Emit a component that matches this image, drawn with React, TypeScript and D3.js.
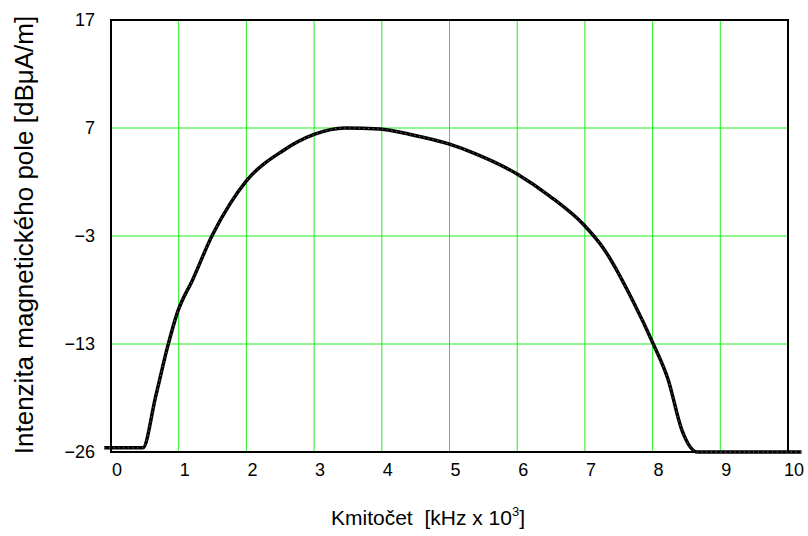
import React, { useEffect, useRef } from "react";
import * as d3 from "d3";

// values: kHz (x10^3) vs dBuA/m
const freq = [-0.1, 0.47, 0.66, 0.84, 0.98, 1.21, 1.49, 1.76, 2.0, 2.54, 3.0, 3.45, 3.97, 4.42, 5.0, 5.35, 6.01, 6.48, 6.99, 7.27, 7.7, 8.01, 8.23, 8.43, 8.66, 10.2];
const level = [-25.5, -25.5, -19.3, -13.2, -10.1, -7.0, -3.0, 0.0, 2.1, 4.9, 6.4, 7.0, 6.9, 6.4, 5.5, 4.7, 2.7, 0.7, -2.0, -4.1, -8.9, -13, -17.3, -23.3, -26, -26];

const xTicks = [0, 1, 2, 3, 4, 5, 6, 7, 8, 9, 10];
const yTicks = [-26, -13, -3, 7, 17];

const width = 808, height = 536;
const font = '"Liberation Sans", Arial, Helvetica, sans-serif';

export default function App() {
  const ref = useRef<SVGSVGElement>(null);

  useEffect(() => {
    const svg = d3.select(ref.current);
    svg.selectAll("*").remove();

    const x = d3.scaleLinear().domain([0, 10]).range([111, 788]);
    // axis labels are evenly spaced, so the scale is piecewise
    const y = d3.scaleLinear().domain(yTicks).range([452, 344, 236, 128, 20]);

    // grid
    svg.append("g")
      .selectAll("line")
      .data(xTicks.slice(1, -1))
      .enter()
      .append("line")
      .attr("x1", d => x(d)).attr("x2", d => x(d))
      .attr("y1", y(17)).attr("y2", y(-26))
      .attr("stroke", "#22ee22")
      .attr("stroke-width", 1);

    svg.append("g")
      .selectAll("line")
      .data(yTicks.slice(1, -1))
      .enter()
      .append("line")
      .attr("x1", x(0)).attr("x2", x(10))
      .attr("y1", d => y(d)).attr("y2", d => y(d))
      .attr("stroke", "#22ee22")
      .attr("stroke-width", 1);

    // frame
    svg.append("rect")
      .attr("x", x(0)).attr("y", y(17))
      .attr("width", x(10) - x(0)).attr("height", y(-26) - y(17))
      .attr("fill", "none")
      .attr("stroke", "#000")
      .attr("stroke-width", 2);

    // tick labels
    svg.append("g")
      .selectAll("text")
      .data(xTicks)
      .enter()
      .append("text")
      .attr("x", d => x(d) + 6)
      .attr("y", 476)
      .attr("text-anchor", "middle")
      .style("font-family", font)
      .style("font-size", "18px")
      .text(d => String(d));

    svg.append("g")
      .selectAll("text")
      .data(yTicks)
      .enter()
      .append("text")
      .attr("x", 95)
      .attr("y", d => y(d) + 6)
      .attr("text-anchor", "end")
      .style("font-family", font)
      .style("font-size", "18px")
      .text(d => (d < 0 ? "\u2212" + Math.abs(d) : String(d)));

    // curve
    const pts = freq.map((f, i) => [f, level[i]] as [number, number]);
    const line = d3.line<[number, number]>()
      .x(d => x(d[0]))
      .y(d => y(d[1]))
      .curve(d3.curveMonotoneX);

    svg.append("path")
      .attr("d", line(pts))
      .attr("fill", "none")
      .attr("stroke", "#000")
      .attr("stroke-width", 3.5)
      .attr("stroke-linejoin", "round");

    svg.append("path")
      .attr("d", line(pts))
      .attr("fill", "none")
      .attr("stroke", "#fff")
      .attr("stroke-width", 0.8)
      .attr("stroke-dasharray", "1.2 3.5")
      .attr("opacity", 0.6);

    // axis titles
    svg.append("text")
      .attr("transform", "translate(33,235) rotate(-90)")
      .attr("text-anchor", "middle")
      .style("font-family", font)
      .style("font-size", "26px")
      .text("Intenzita magnetického pole [dB\u03bcA/m]");

    const xt = svg.append("text")
      .attr("x", 428)
      .attr("y", 525)
      .attr("text-anchor", "middle")
      .style("font-family", font)
      .style("font-size", "21px");
    xt.append("tspan").text("Kmitočet\u00a0\u00a0[kHz x 10");
    xt.append("tspan").attr("dy", -9).style("font-size", "13px").text("3");
    xt.append("tspan").attr("dy", 9).text("]");
  }, []);

  return (
    <svg ref={ref} width={width} height={height}
      style={{ position: "absolute", left: 0, top: 0, background: "#fff" }} />
  );
}
